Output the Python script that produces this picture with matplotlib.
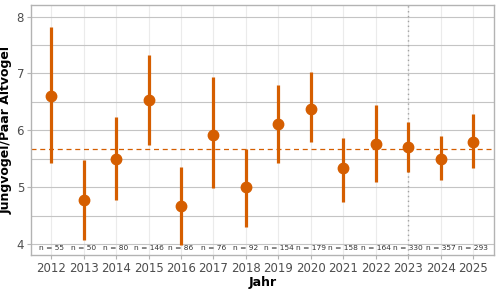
import matplotlib
matplotlib.use("Agg")
import matplotlib.pyplot as plt
from matplotlib.ticker import MultipleLocator

years = [2012, 2013, 2014, 2015, 2016, 2017, 2018, 2019, 2020, 2021, 2022, 2023, 2024, 2025]
mean = [6.60, 4.78, 5.49, 6.53, 4.67, 5.92, 5.00, 6.12, 6.38, 5.33, 5.76, 5.70, 5.50, 5.79]
upper = [7.81, 5.48, 6.23, 7.33, 5.35, 6.93, 5.67, 6.79, 7.02, 5.86, 6.44, 6.14, 5.90, 6.29]
lower = [5.42, 4.07, 4.78, 5.74, 3.99, 4.98, 4.30, 5.43, 5.79, 4.74, 5.09, 5.27, 5.12, 5.33]
n = [55, 50, 80, 146, 86, 76, 92, 154, 179, 158, 164, 330, 357, 293]
overall_mean = 5.68
ref_year = 2023

col = "#D55E00"

fig = plt.figure(figsize=(5, 2.91), dpi=100)
ax = fig.add_axes([0.062, 0.124, 0.9266, 0.858])

# grid
ax.yaxis.set_minor_locator(MultipleLocator(0.5))
ax.grid(axis="y", which="both", color="#C4C4C4", lw=0.8, zorder=0)
ax.grid(axis="x", which="major", color="#EBEBEB", lw=0.8, zorder=0)
ax.set_axisbelow(True)

ax.axvline(ref_year, color="#A0A0A0", lw=1.0, ls=(0, (1, 2.5)), zorder=1)
ax.axhline(overall_mean, color=col, lw=0.9, ls=(0, (4, 3)), zorder=1)

ax.vlines(years, lower, upper, color=col, lw=2.3, zorder=3)
ax.plot(years, mean, "o", color=col, ms=7.5, zorder=4)

for x, k in zip(years, n):
    ax.text(x, 3.94, "n = %d" % k, ha="center", va="center", fontsize=5.4, color="#333333", zorder=5)

ax.set_xlim(2011.38, 2025.65)
ax.set_ylim(3.81, 8.2)
ax.set_xticks(years)
ax.set_yticks([4, 5, 6, 7, 8])

for s in ax.spines.values():
    s.set_color("#B3B3B3")
    s.set_linewidth(1.0)
ax.tick_params(axis="both", which="major", colors="#B3B3B3", labelcolor="#4D4D4D", labelsize=8.5, length=3, width=0.8, pad=2)
ax.tick_params(axis="y", which="minor", length=0)

ax.set_xlabel("Jahr", fontsize=9, fontweight="bold", labelpad=1)
ax.set_ylabel("Jungvögel/Paar Altvögel", fontsize=9, fontweight="bold", labelpad=3)

fig.savefig("out.png", dpi=100)
